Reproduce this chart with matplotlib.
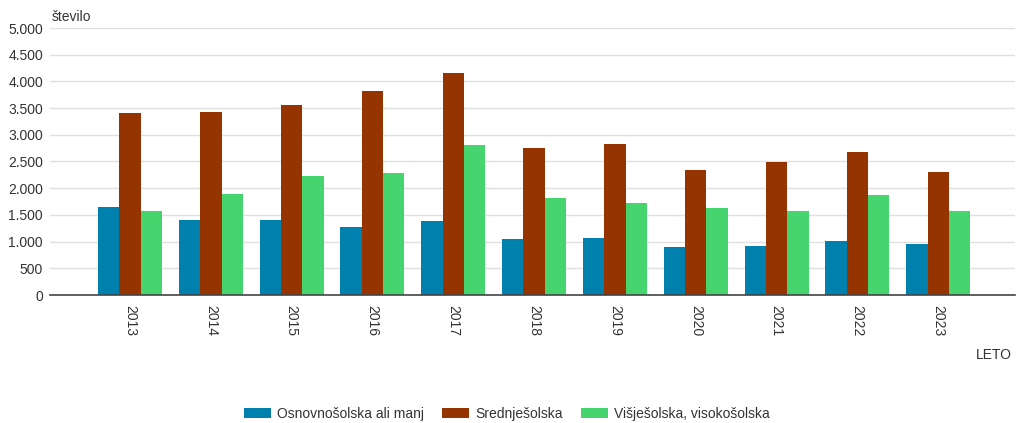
import numpy as np
import matplotlib.pyplot as plt
from matplotlib.ticker import FuncFormatter

plt.rcParams['font.family'] = ['Liberation Sans', 'DejaVu Sans']

# data
years = ["2013", "2014", "2015", "2016", "2017", "2018", "2019", "2020", "2021", "2022", "2023"]
osnovna = [1644, 1412, 1412, 1269, 1394, 1044, 1062, 894, 919, 1019, 956]
srednja = [3412, 3431, 3562, 3825, 4162, 2744, 2825, 2350, 2494, 2681, 2306]
visja = [1575, 1894, 2225, 2287, 2806, 1812, 1725, 1622, 1581, 1875, 1581]
series_names = ["Osnovnošolska ali manj", "Srednješolska", "Višješolska, visokošolska"]
colors = ["#0080ad", "#963400", "#46d46e"]

fig = plt.figure(figsize=(10.16, 4.23), dpi=100)
ax = fig.add_axes([50 / 1016, 1 - 295 / 423, 965 / 1016, 267 / 423])

x = np.arange(len(years))
w = 0.264
for i, (vals, name, c) in enumerate(zip([osnovna, srednja, visja], series_names, colors)):
    ax.bar(x + (i - 1) * w, vals, width=w, color=c, label=name, zorder=3)

ax.set_ylim(0, 5000)
ax.set_xlim(-0.99, 10.95)
ax.set_yticks(np.arange(0, 5001, 500))
ax.yaxis.set_major_formatter(FuncFormatter(lambda v, p: f"{int(v):,}".replace(",", ".")))
ax.set_xticks(x)
ax.set_xticklabels(years, rotation=-90)
ax.tick_params(axis='y', length=0, pad=5, labelsize=10, labelcolor="#333333")
ax.tick_params(axis='x', length=0, pad=7, labelsize=10, labelcolor="#333333")
ax.grid(axis='y', color="#e0e0e0", linewidth=1, zorder=0)
for s in ["top", "right", "left"]:
    ax.spines[s].set_visible(False)
ax.spines["bottom"].set_color("#444444")
ax.spines["bottom"].set_linewidth(1.2)
ax.spines["bottom"].set_zorder(4)

fig.text(52 / 1016, 1 - 17 / 423, "število", fontsize=10, color="#333333", va="center", ha="left")
fig.text(1012 / 1016, 1 - 355 / 423, "LETO", fontsize=10, color="#333333", va="center", ha="right")

fig.legend(loc="center", bbox_to_anchor=(507 / 1016, 1 - 414 / 423), ncol=3, frameon=False,
           fontsize=10, handlelength=1.95, handleheight=0.65, columnspacing=1.3,
           handletextpad=0.45, labelcolor="#333333")

fig.savefig("out.png", dpi=100)
